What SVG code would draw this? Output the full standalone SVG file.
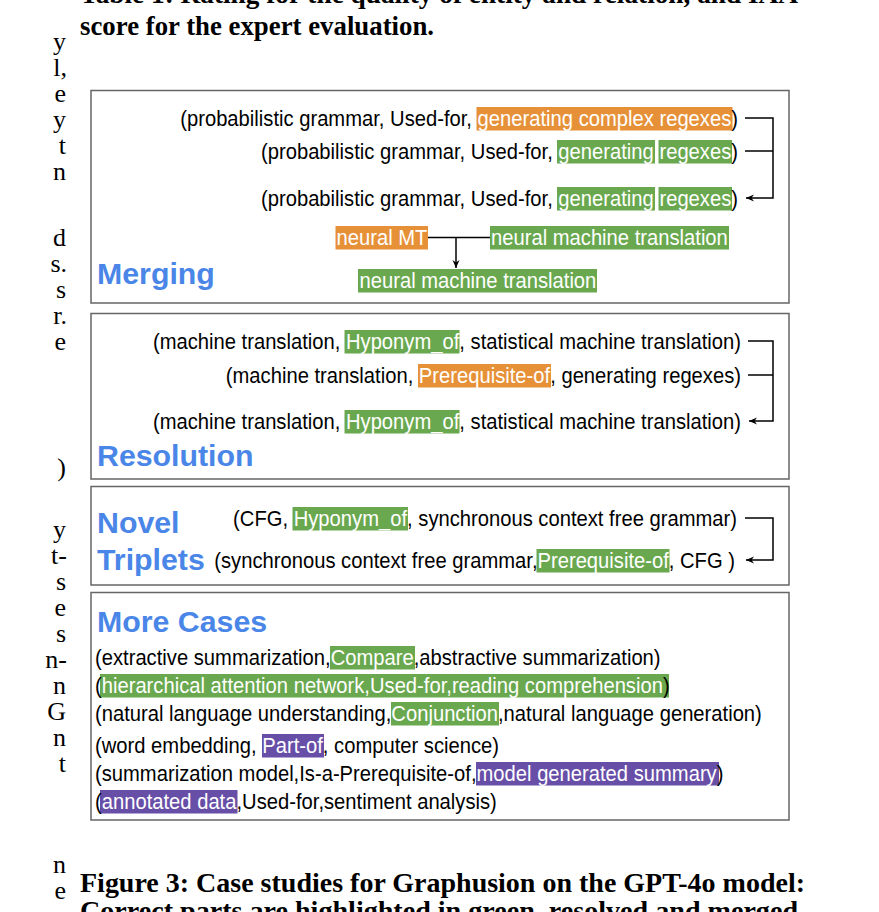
<svg xmlns="http://www.w3.org/2000/svg" width="879" height="912" viewBox="0 0 879 912">
<defs>
<style>
.t{font-family:"Liberation Sans",Arial,sans-serif;font-size:20.2px;fill:#000}
.w{fill:#fff}
.h{font-family:"Liberation Sans",Arial,sans-serif;font-weight:bold;font-size:30.3px;fill:#4a86e8}
.g{fill:#6aa84f}.o{fill:#e69138}.p{fill:#674ea7}
.box{fill:#fff;stroke:#666;stroke-width:1.5}
.c{fill:none;stroke:#000;stroke-width:1.5}
.cap{font-family:"Liberation Serif","Times New Roman",serif;font-weight:bold;font-size:27px;fill:#000}
.body{font-family:"Liberation Serif","Times New Roman",serif;font-size:26px;fill:#000}
</style>
<marker id="ah" markerUnits="userSpaceOnUse" markerWidth="10" markerHeight="10" refX="8" refY="4" orient="auto">
<path d="M0,0.5 L8,4 L0,7.5 L2.5,4 Z" fill="#000"/>
</marker>
</defs>
<rect width="879" height="912" fill="#fff"/>

<g id="page-text">
<text class="cap" x="80" y="3" textLength="718" lengthAdjust="spacingAndGlyphs">Table 1: Rating for the quality of entity and relation, and IAA</text>
<text class="cap" x="80" y="35" textLength="354" lengthAdjust="spacingAndGlyphs">score for the expert evaluation.</text>
<text class="cap" x="80" y="892" textLength="725" lengthAdjust="spacingAndGlyphs">Figure 3: Case studies for Graphusion on the GPT-4o model:</text>
<text class="cap" x="80" y="920" textLength="718" lengthAdjust="spacingAndGlyphs">Correct parts are highlighted in green, resolved and merged</text>
<g text-anchor="end">
<text class="body" x="66" y="50">y</text>
<text class="body" x="67" y="76">l,</text>
<text class="body" x="66" y="102">e</text>
<text class="body" x="66" y="128">y</text>
<text class="body" x="66" y="154">t</text>
<text class="body" x="66" y="180">n</text>
<text class="body" x="66" y="246">d</text>
<text class="body" x="67" y="272">s.</text>
<text class="body" x="66" y="298">s</text>
<text class="body" x="67" y="324">r.</text>
<text class="body" x="66" y="350">e</text>
<text class="body" x="66" y="476">)</text>
<text class="body" x="66" y="538">y</text>
<text class="body" x="67" y="564">t-</text>
<text class="body" x="66" y="590">s</text>
<text class="body" x="66" y="616">e</text>
<text class="body" x="66" y="642">s</text>
<text class="body" x="67" y="668">n-</text>
<text class="body" x="66" y="694">n</text>
<text class="body" x="66" y="720">G</text>
<text class="body" x="66" y="746">n</text>
<text class="body" x="66" y="772">t</text>
<text class="body" x="66" y="873">n</text>
<text class="body" x="66" y="899">e</text>
</g>
</g>

<g id="merging">
<rect class="box" x="91" y="90.5" width="698" height="212.5"/>
<rect class="o" x="476.5" y="107" width="256" height="23.5"/>
<text class="t" text-anchor="end" transform="translate(738,126) scale(1,1.12)">(probabilistic grammar, Used-for, <tspan class="w">generating complex regexes</tspan>)</text>
<rect class="g" x="557" y="140" width="98" height="23.5"/>
<rect class="g" x="658.5" y="140" width="73.5" height="23.5"/>
<text class="t" text-anchor="end" transform="translate(738,159) scale(1,1.12)">(probabilistic grammar, Used-for, <tspan class="w">generating</tspan> <tspan class="w">regexes</tspan>)</text>
<rect class="g" x="557" y="187" width="98" height="23.5"/>
<rect class="g" x="658.5" y="187" width="73.5" height="23.5"/>
<text class="t" text-anchor="end" transform="translate(738,206) scale(1,1.12)">(probabilistic grammar, Used-for, <tspan class="w">generating</tspan> <tspan class="w">regexes</tspan>)</text>
<rect class="o" x="335.5" y="226" width="92.5" height="23.5"/>
<text class="t w" transform="translate(336.5,245) scale(1,1.12)">neural MT</text>
<rect class="g" x="490" y="226" width="239" height="23.5"/>
<text class="t w" transform="translate(491,245) scale(1,1.12)">neural machine translation</text>
<rect class="g" x="358" y="269" width="239" height="23.5"/>
<text class="t w" transform="translate(359.5,288) scale(1,1.12)">neural machine translation</text>
<text class="h" x="97" y="284">Merging</text>
</g>

<g id="resolution">
<rect class="box" x="91" y="313.5" width="698" height="165.5"/>
<rect class="g" x="344.5" y="330" width="115" height="23.5"/>
<text class="t" text-anchor="end" transform="translate(741,349) scale(1,1.12)">(machine translation, <tspan class="w">Hyponym_of</tspan>, statistical machine translation)</text>
<rect class="o" x="418" y="364" width="133" height="23.5"/>
<text class="t" text-anchor="end" transform="translate(741,383) scale(1,1.12)">(machine translation, <tspan class="w">Prerequisite-of</tspan>, generating regexes)</text>
<rect class="g" x="344.5" y="410" width="115" height="23.5"/>
<text class="t" text-anchor="end" transform="translate(741,429) scale(1,1.12)">(machine translation, <tspan class="w">Hyponym_of</tspan>, statistical machine translation)</text>
<text class="h" x="97" y="466">Resolution</text>
</g>

<g id="novel-triplets">
<rect class="box" x="91" y="486.5" width="698" height="98.5"/>
<rect class="g" x="292.5" y="507" width="115.5" height="23.5"/>
<text class="t" text-anchor="end" transform="translate(737,526) scale(1,1.12)">(CFG, <tspan class="w">Hyponym_of</tspan>, synchronous context free grammar)</text>
<rect class="g" x="536.5" y="549" width="133" height="23.5"/>
<text class="t" text-anchor="end" transform="translate(735,568) scale(1,1.12)">(synchronous context free grammar,<tspan class="w">Prerequisite-of</tspan>, CFG )</text>
<text class="h" x="97" y="533">Novel</text>
<text class="h" x="97" y="570">Triplets</text>
</g>

<g id="more-cases">
<rect class="box" x="91" y="592.5" width="698" height="227.5"/>
<text class="h" x="97" y="632">More Cases</text>
<rect class="g" x="330" y="646" width="85" height="23.5"/>
<text class="t" transform="translate(95,665) scale(1,1.12)">(extractive summarization,<tspan class="w">Compare</tspan>,abstractive summarization)</text>
<rect class="g" x="100" y="674" width="569" height="23.5"/>
<text class="t" transform="translate(95,693) scale(1,1.12)">(<tspan class="w">hierarchical attention network,Used-for,reading comprehension</tspan>)</text>
<rect class="g" x="391" y="702" width="108" height="23.5"/>
<text class="t" transform="translate(95,721) scale(1,1.12)">(natural language understanding,<tspan class="w">Conjunction</tspan>,natural language generation)</text>
<rect class="p" x="262" y="734" width="62" height="23.5"/>
<text class="t" transform="translate(95,753) scale(1,1.12)">(word embedding, <tspan class="w">Part-of</tspan>, computer science)</text>
<rect class="p" x="476" y="762" width="243" height="23.5"/>
<text class="t" transform="translate(95,781) scale(1,1.12)">(summarization model,Is-a-Prerequisite-of,<tspan class="w">model generated summary</tspan>)</text>
<rect class="p" x="100" y="790" width="137.5" height="23.5"/>
<text class="t" transform="translate(95,809) scale(1,1.12)">(<tspan class="w">annotated data</tspan>,Used-for,sentiment analysis)</text>
</g>

<g id="connectors">
<path class="c" d="M745,118 H773 V198 H746" marker-end="url(#ah)"/>
<path class="c" d="M745,151 H773"/>
<path class="c" d="M428,237.5 H490"/>
<path class="c" d="M456,237.5 V268" marker-end="url(#ah)"/>
<path class="c" d="M748,341 H773 V421 H749" marker-end="url(#ah)"/>
<path class="c" d="M748,375 H773"/>
<path class="c" d="M745,518 H773 V560 H746" marker-end="url(#ah)"/>
</g>
</svg>
